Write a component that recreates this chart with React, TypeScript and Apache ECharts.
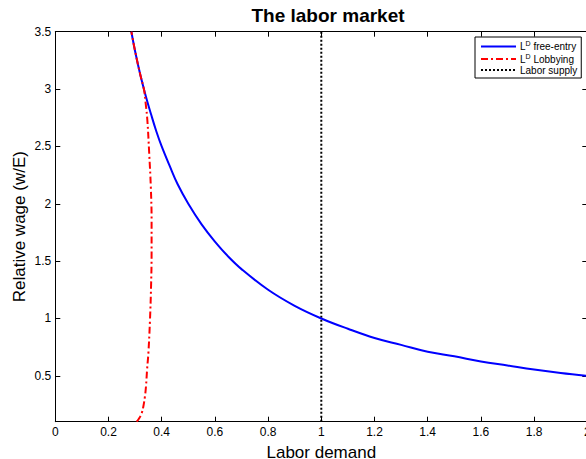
import React, { useEffect, useRef } from "react";
import * as echarts from "echarts";

const xTicks = [0, 0.2, 0.4, 0.6, 0.8, 1, 1.2, 1.4, 1.6, 1.8, 2];
const yTicks = [0.5, 1, 1.5, 2, 2.5, 3, 3.5];

const freeEntryL = [0.286, 0.3, 0.32, 0.34, 0.36, 0.38, 0.4, 0.43, 0.46, 0.5, 0.55, 0.6, 0.65, 0.7, 0.8, 0.9, 1.0, 1.1, 1.2, 1.3, 1.4, 1.5, 1.6, 1.7, 1.8, 1.9, 2.0];
const freeEntryW = [3.5, 3.33, 3.12, 2.94, 2.78, 2.63, 2.5, 2.33, 2.17, 2.0, 1.82, 1.67, 1.54, 1.43, 1.25, 1.11, 1.0, 0.91, 0.83, 0.77, 0.71, 0.67, 0.625, 0.59, 0.555, 0.525, 0.5];

const lobbyL = [0.306, 0.316, 0.325, 0.331, 0.337, 0.341, 0.345, 0.35, 0.356, 0.36, 0.362, 0.362, 0.359, 0.353, 0.346, 0.34, 0.333, 0.32, 0.3, 0.286];
const lobbyW = [0.1, 0.132, 0.176, 0.233, 0.32, 0.41, 0.553, 0.7, 0.99, 1.28, 1.57, 1.86, 2.15, 2.44, 2.73, 2.87, 3.0, 3.12, 3.33, 3.5];

const supplyL = [1, 1];
const supplyW = [0.1, 3.5];

const FONT = "Liberation Sans, Arial, Helvetica, sans-serif";

export default function App() {
  const ref = useRef<HTMLDivElement>(null);
  useEffect(() => {
    if (!ref.current) return;
    const chart = echarts.init(ref.current, undefined, { renderer: "svg" });
    const pairs = (xs: number[], ys: number[]) => xs.map((x, i) => [x, ys[i]]);
    const axisLine = { show: true, onZero: false, lineStyle: { color: "#000", width: 1 } };
    const tick = { show: true, inside: true, length: 5, lineStyle: { color: "#000", width: 1 } };
    chart.setOption({
      animation: false,
      backgroundColor: "#fff",
      textStyle: { fontFamily: FONT },
      title: {
        text: "The labor market",
        left: 323,
        textAlign: "center",
        top: 1,
        textStyle: { fontFamily: FONT, fontWeight: "bold", fontSize: 19, color: "#000" },
      },
      grid: { left: 55.3, top: 31.7, width: 532, height: 390, outerBoundsMode: "none", containLabel: false },
      xAxis: [
        {
          type: "value",
          min: 0,
          max: 2,
          interval: 0.2,
          position: "bottom",
          axisLine,
          axisTick: tick,
          splitLine: { show: false },
          axisLabel: {
            color: "#000",
            fontSize: 12,
            fontFamily: FONT,
            margin: 4,
            customValues: xTicks,
            formatter: (v: number) => String(Math.round(v * 10) / 10),
          },
          name: "Labor demand",
          nameLocation: "middle",
          nameGap: 22,
          nameMoveOverlap: false,
          nameTextStyle: { color: "#000", fontSize: 17, fontFamily: FONT },
        },
        {
          type: "value",
          min: 0,
          max: 2,
          interval: 0.2,
          position: "top",
          axisLine,
          axisTick: tick,
          axisLabel: { show: false },
          splitLine: { show: false },
        },
      ],
      yAxis: [
        {
          type: "value",
          min: 0.1,
          max: 3.5,
          position: "left",
          axisLine,
          axisTick: { ...tick, customValues: yTicks },
          splitLine: { show: false },
          axisLabel: {
            color: "#000",
            fontSize: 12,
            fontFamily: FONT,
            margin: 4,
            customValues: yTicks,
            formatter: (v: number) => String(v),
          },
          name: "Relative wage (w/E)",
          nameLocation: "middle",
          nameGap: 27,
          nameMoveOverlap: false,
          nameTextStyle: { color: "#000", fontSize: 17, fontFamily: FONT },
        },
        {
          type: "value",
          min: 0.1,
          max: 3.5,
          position: "right",
          axisLine,
          axisTick: { ...tick, customValues: yTicks },
          axisLabel: { show: false },
          splitLine: { show: false },
        },
      ],
      legend: {
        orient: "vertical",
        left: 475,
        top: 37,
        width: 104,
        backgroundColor: "#fff",
        borderColor: "#000",
        borderWidth: 1,
        borderRadius: 0,
        padding: [3, 4, 3, 5],
        itemGap: 1,
        itemWidth: 35,
        itemHeight: 12,
        align: "left",
        itemStyle: { opacity: 0 },
        data: ["free", "lobby", "supply"],
        formatter: (name: string) => {
          if (name === "free") return "L{sup|D} free-entry";
          if (name === "lobby") return "L{sup|D} Lobbying";
          return "Labor supply";
        },
        textStyle: {
          color: "#000",
          fontSize: 10,
          fontFamily: FONT,
          padding: [0, 0, 0, -1],
          rich: {
            sup: { fontSize: 7, fontFamily: FONT, color: "#000", padding: [0, 0, 6, 0] },
          },
        },
      },
      series: [
        {
          name: "free",
          type: "line",
          data: pairs(freeEntryL, freeEntryW),
          showSymbol: false,
          symbol: "none",
          smooth: 0.4,
          lineStyle: { color: "#0000ff", width: 2 },
          itemStyle: { color: "#0000ff" },
          z: 3,
        },
        {
          name: "lobby",
          type: "line",
          data: pairs(lobbyL, lobbyW),
          showSymbol: false,
          symbol: "none",
          smooth: 0.4,
          lineStyle: { color: "#ff0000", width: 2, type: [7, 3, 2, 3] },
          itemStyle: { color: "#ff0000" },
          z: 4,
        },
        {
          name: "supply",
          type: "line",
          data: pairs(supplyL, supplyW),
          showSymbol: false,
          symbol: "none",
          lineStyle: { color: "#000", width: 2, type: [2, 2] },
          itemStyle: { color: "#000" },
          z: 2,
        },
      ],
    });
    return () => chart.dispose();
  }, []);
  return <div ref={ref} style={{ position: "absolute", left: 0, top: 0, width: 586, height: 459 }} />;
}
